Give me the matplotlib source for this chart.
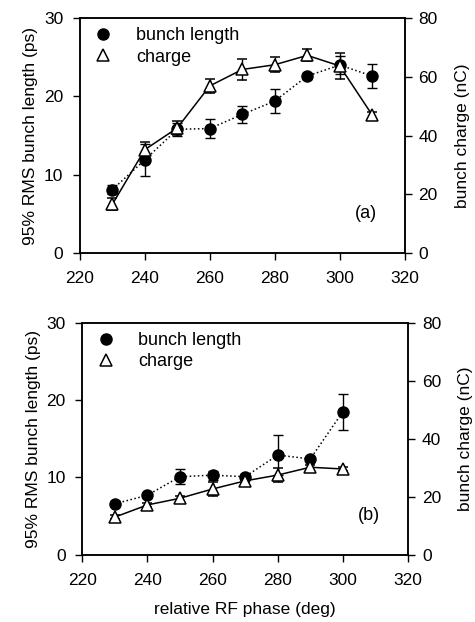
import matplotlib
matplotlib.use("Agg")
import matplotlib.pyplot as plt
from matplotlib.lines import Line2D

plt.rcParams['font.family'] = ['Liberation Sans', 'DejaVu Sans']
plt.rcParams['font.size'] = 12

# Panel (a)
phase_a = [230, 240, 250, 260, 270, 280, 290, 300, 310]
length_a = [8.1, 11.9, 15.8, 15.9, 17.7, 19.4, 22.6, 24.0, 22.6]
length_a_err = [0.6, 2.0, 0.8, 1.2, 1.1, 1.5, 0.4, 1.2, 1.5]
charge_a = [16.6, 35.2, 42.6, 56.9, 62.5, 64.1, 67.3, 63.7, 47.0]
charge_a_err = [2.0, 2.5, 2.5, 2.5, 3.5, 2.5, 2.0, 4.5, 1.0]

# Panel (b)
phase_b = [230, 240, 250, 260, 270, 280, 290, 300]
length_b = [6.6, 7.7, 10.1, 10.3, 10.1, 12.9, 12.4, 18.5]
length_b_err = [0.3, 0.3, 1.0, 0.6, 0.3, 2.6, 0.3, 2.3]
charge_b = [13.0, 17.2, 19.5, 22.7, 25.5, 27.5, 30.2, 29.6]
charge_b_err = [0.8, 0.8, 0.8, 2.5, 0.8, 2.5, 0.8, 0.8]

xticks = [220, 240, 260, 280, 300, 320]
lticks = [0, 10, 20, 30]
rticks = [0, 20, 40, 60, 80]

fig = plt.figure(figsize=(4.75, 6.22), dpi=100)

def panel(rect, phase, length, length_err, charge, charge_err, tag, xlabel):
    ax = fig.add_axes(rect)
    ax2 = ax.twinx()
    ax.errorbar(phase, length, yerr=length_err, fmt='o', ls=':', color='black',
                ms=8, lw=1.1, capsize=3.5, elinewidth=1.0, capthick=1.0, zorder=3)
    ax2.errorbar(phase, charge, yerr=charge_err, fmt='^', ls='-', color='black',
                 mfc='white', mec='black', ms=8.5, mew=1.1, lw=1.1, capsize=3.5,
                 elinewidth=1.0, capthick=1.0, zorder=3)
    ax.set_xlim(220, 320)
    ax.set_ylim(0, 30)
    ax2.set_ylim(0, 80)
    ax.set_xticks(xticks)
    ax.set_yticks(lticks)
    ax2.set_yticks(rticks)
    ax.tick_params(axis='x', direction='out', length=5, width=1, labelsize=12.5, pad=8)
    ax.tick_params(axis='y', direction='out', length=5, width=1, labelsize=12.5, pad=7)
    ax2.tick_params(direction='out', length=5, width=1, labelsize=12.5, pad=5)
    ax.set_ylabel('95% RMS bunch length (ps)', fontsize=12.5, labelpad=4)
    ax2.set_ylabel('bunch charge (nC)', fontsize=12.5, labelpad=12)
    if xlabel:
        ax.set_xlabel(xlabel, fontsize=12.5, labelpad=10)
    for a in (ax, ax2):
        for s in a.spines.values():
            s.set_linewidth(1.1)
    ax.text(0.88, 0.17, tag, transform=ax.transAxes, fontsize=13,
            ha='center', va='center')
    handles = [Line2D([], [], marker='o', ls='none', color='black', ms=8),
               Line2D([], [], marker='^', ls='none', color='black',
                      mfc='white', ms=8.5, mew=1.1)]
    ax2.legend(handles, ['bunch length', 'charge'], loc='upper left',
               frameon=False, fontsize=13, handletextpad=1.0, handlelength=1.6,
               borderaxespad=0.1, borderpad=0.4, labelspacing=0.25)
    return ax, ax2

panel([0.168, 0.593, 0.684, 0.378], phase_a, length_a, length_a_err,
      charge_a, charge_a_err, '(a)', None)
panel([0.173, 0.108, 0.686, 0.373], phase_b, length_b, length_b_err,
      charge_b, charge_b_err, '(b)', 'relative RF phase (deg)')

fig.savefig('out.png', dpi=100)
